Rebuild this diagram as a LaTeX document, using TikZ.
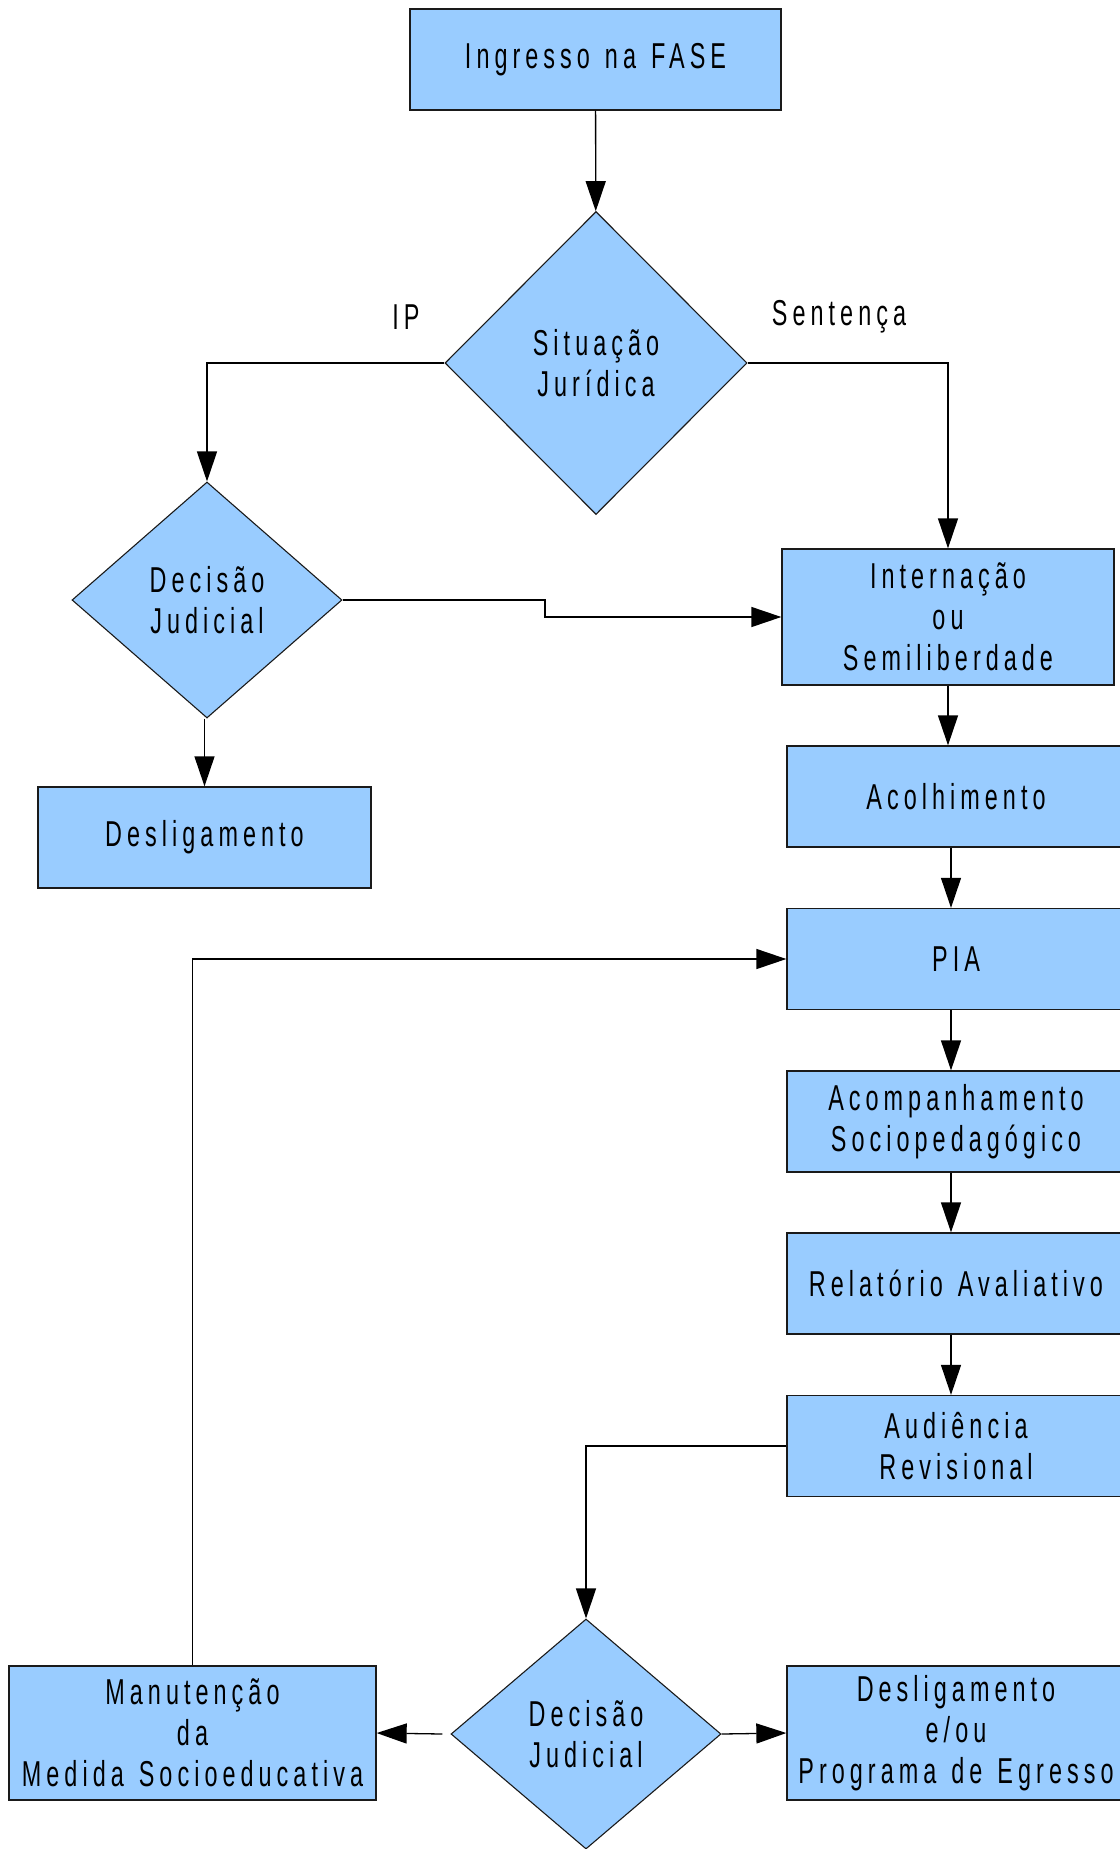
\documentclass[tikz,border=0pt]{standalone}
\usepackage{fontspec}
\setmainfont{Liberation Sans}[FakeStretch=0.65, LetterSpace=14, WordSpace=1.3]
\usepackage{xcolor}
\definecolor{skyfill}{HTML}{99CCFF}
\definecolor{inkline}{HTML}{1A1A1A}
\usepackage{tikz}
\usetikzlibrary{arrows.meta, shapes.geometric}

\tikzset{
  bloco/.style={rectangle, draw=inkline, fill=skyfill, line width=1.3pt,
    inner sep=1pt, align=center, minimum height=101pt},
  decisao/.style={diamond, draw=inkline, fill=skyfill, line width=1.1pt,
    inner sep=2pt, align=center},
  rotulo/.style={inner sep=0pt},
  seta/.style={line width=1.3pt, draw=black, -{Triangle[length=30pt, width=20pt]}},
}

\begin{document}
\begin{tikzpicture}[x=1pt, y=-1pt, font=\fontsize{36}{41}\selectfont]
  \useasboundingbox (0,0) rectangle (1119,1849);

  % --- Entrada ---
  \node[bloco, minimum width=371pt] (ingresso) at (595.5, 59.5) {Ingresso na FASE};
  \node[decisao, minimum width=302pt, minimum height=303pt] (situacao) at (596, 363) {Situação\\Jurídica};
  \node[rotulo] (ip) at (406, 317) {IP};
  \node[rotulo] (sentenca) at (839, 317) {Sentença};

  % --- Ramo IP ---
  \node[decisao, minimum width=270pt, minimum height=236pt] (decisaoA) at (207, 600) {Decisão\\Judicial};
  \node[bloco, minimum width=333pt] (desligA) at (204.5, 837.5) {Desligamento};
  \coordinate (degrau) at (545, 600);

  % --- Coluna da medida ---
  \node[bloco, minimum width=332pt, minimum height=136pt] (internacao) at (948, 617) {Internação\\ou\\Semiliberdade};
  \node[bloco, minimum width=338pt] (acolhimento) at (956, 796.5) {Acolhimento};
  \node[bloco, minimum width=338pt] (pia) at (956, 959) {PIA};
  \node[bloco, minimum width=338pt] (acompanhamento) at (956, 1121.5) {Acompanhamento\\Sociopedagógico};
  \node[bloco, minimum width=338pt] (relatorio) at (956, 1283.5) {Relatório Avaliativo};
  \node[bloco, minimum width=338pt] (audiencia) at (956, 1446) {Audiência\\Revisional};

  % --- Decisao final ---
  \node[decisao, minimum width=270pt, minimum height=230pt] (decisaoB) at (586, 1734) {Decisão\\Judicial};
  \node[bloco, minimum width=367pt, minimum height=134pt] (manutencao) at (192.5, 1733) {Manutenção\\da\\Medida Socioeducativa};
  \node[bloco, minimum width=338pt, minimum height=134pt] (egresso) at (956, 1733) {Desligamento\\e/ou\\Programa de Egresso};

  % --- Conectores ---
  \draw[seta] (ingresso) -- (situacao);
  \draw[seta] (situacao.west) -| (decisaoA.north);
  \draw[seta] (situacao.east) -| (internacao.north);
  \draw[seta] (decisaoA.east) -- (degrau) |- (internacao.west);
  \draw[seta] (desligA.north |- decisaoA.south) -- (desligA.north);
  \draw[seta] (internacao.south) -- (internacao.south |- acolhimento.north);
  \draw[seta] ([xshift=-5pt]acolhimento.south) -- ([xshift=-5pt]pia.north);
  \draw[seta] ([xshift=-5pt]pia.south) -- ([xshift=-5pt]acompanhamento.north);
  \draw[seta] ([xshift=-5pt]acompanhamento.south) -- ([xshift=-5pt]relatorio.north);
  \draw[seta] ([xshift=-5pt]relatorio.south) -- ([xshift=-5pt]audiencia.north);
  \draw[seta] (audiencia.west) -| (decisaoB.north);
  \draw[seta] ([xshift=-8pt]decisaoB.west) -- (manutencao.east);
  \draw[seta] (decisaoB.east) -- (egresso.west);
  \draw[seta] (manutencao.north) |- (pia.west);
\end{tikzpicture}
\end{document}
